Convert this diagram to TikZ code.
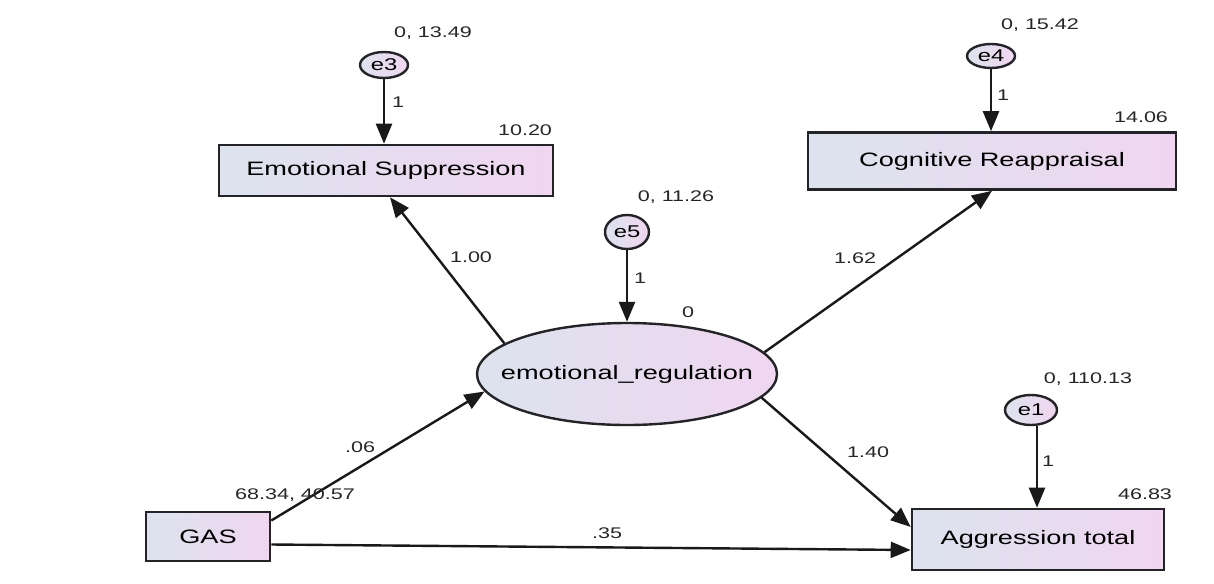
\documentclass[tikz,border=0pt]{standalone}
\usepackage{fontspec}
\setmainfont{Liberation Sans}[FakeStretch=1.4]
\usetikzlibrary{shapes.geometric,arrows.meta}
\definecolor{gl}{RGB}{220,227,238}
\definecolor{gr}{RGB}{240,214,240}
\definecolor{edge}{RGB}{35,35,40}
\tikzset{
  box/.style={rectangle,draw=edge,line width=1.3pt,left color=gl,right color=gr,inner sep=0pt,font=\fontsize{9.7}{11}\selectfont},
  lat/.style={ellipse,draw=edge,line width=1.2pt,left color=gl,right color=gr,inner sep=0pt,font=\fontsize{9.7}{11}\selectfont},
  err/.style={ellipse,draw=edge,line width=1.2pt,left color=gl,right color=gr,inner sep=0pt,font=\fontsize{8.5}{9}\selectfont},
  lab/.style={font=\fontsize{7.7}{9}\selectfont,inner sep=0pt,text=black!85},
  path/.style={draw=black!90,line width=1.2pt,-{Triangle[length=10pt,width=8pt]}}
}
\newcommand{\zw}[1]{\makebox[0pt]{#1}}
\begin{document}
\begin{tikzpicture}[x=0.5pt,y=-0.5pt]
\path[use as bounding box,fill=white] (0,0) rectangle (1214,583);
% observed
\node[box,minimum width=167pt,minimum height=25.5pt] (es) at (386,170.5) {Emotional Suppression};
\node[box,minimum width=184pt,minimum height=28.5pt] (cr) at (992,161) {Cognitive Reappraisal};
\node[box,minimum width=62pt,minimum height=24.5pt] (gas) at (208,536.5) {GAS};
\node[box,minimum width=126pt,minimum height=30.5pt] (at) at (1038,539.5) {Aggression total};
% latent
\node[lat,minimum width=150pt,minimum height=51pt] (er) at (627,374) {\zw{emotional\_regulation}};
% errors
\node[err,minimum width=24pt,minimum height=13pt] (e3) at (384,65) {\zw{e3}};
\node[err,minimum width=24pt,minimum height=12pt] (e4) at (991,56) {\zw{e4}};
\node[err,minimum width=22pt,minimum height=17pt] (e5) at (627,232) {\zw{e5}};
\node[err,minimum width=26pt,minimum height=15pt] (e1) at (1031,410) {\zw{e1}};
% error paths
\draw[path] (e3.south) -- (es.north -| e3.south);
\draw[path] (e4.south) -- (cr.north -| e4.south);
\draw[path] (e5.south) -- (er.north);
\draw[path] ([xshift=3pt]e1.south) -- ([xshift=3pt]at.north -| e1.south);
% structural paths
\draw[path] (er.166) -- ([xshift=2pt]es.south);
\draw[path] (er.9) -- (cr.south);
\draw[path] (er.-10) -- ([yshift=6.25pt]at.west);
\draw[path] ([yshift=8pt]gas.east) -- (er.187);
\draw[path] ([yshift=-4pt]gas.east) -- ([yshift=-5.25pt]at.west);
% labels
\node[lab] (l3v) at (433,33) {0, 13.49};
\node[lab] (l3w) at (398,102) {1};
\node[lab] (lesi) at (525,130) {10.20};
\node[lab] (l4v) at (1040,25) {0, 15.42};
\node[lab] (l4w) at (1003,95) {1};
\node[lab] (lcri) at (1141,117) {14.06};
\node[lab] (l5v) at (676,197) {0, 11.26};
\node[lab] (l5w) at (640,278) {1};
\node[lab] (leri) at (688,312) {0};
\node[lab] (l1v) at (1088,379) {0, 110.13};
\node[lab] (l1w) at (1048,461) {1};
\node[lab] (lati) at (1145,494) {46.83};
\node[lab] (lgas) at (295,495) {68.34, 40.57};
\node[lab] (lp1) at (471,257) {1.00};
\node[lab] (lp2) at (855,258) {1.62};
\node[lab] (lp3) at (868,452) {1.40};
\node[lab] (lp4) at (360,447) {.06};
\node[lab] (lp5) at (607,533) {.35};
\end{tikzpicture}
\end{document}
